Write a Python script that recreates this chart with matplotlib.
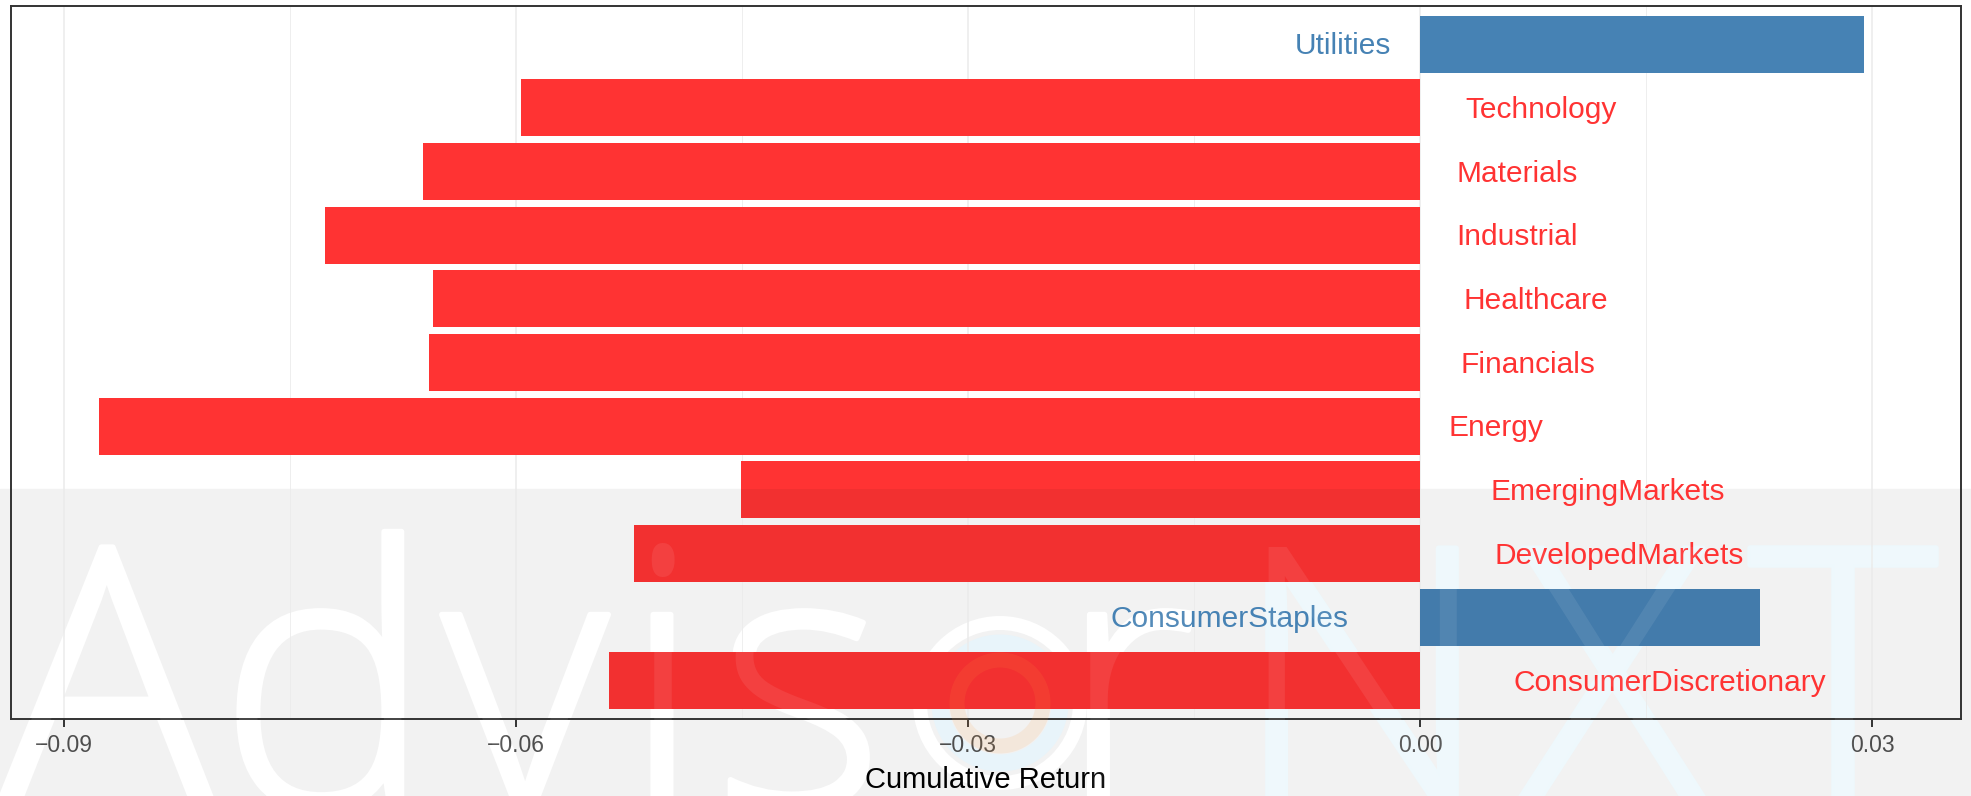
import matplotlib
matplotlib.use('Agg')
import matplotlib.pyplot as plt
import matplotlib.transforms as mtransforms
import matplotlib.patheffects as pe
from matplotlib import font_manager as fm
from matplotlib.patches import Rectangle, Circle
import numpy as np

# dados (de baixo para cima)
sectors = ['ConsumerDiscretionary', 'ConsumerStaples', 'DevelopedMarkets',
           'EmergingMarkets', 'Energy', 'Financials', 'Healthcare',
           'Industrial', 'Materials', 'Technology', 'Utilities']
returns = [-0.0538, 0.0226, -0.0522, -0.0451, -0.0877, -0.0658, -0.0655,
           -0.0727, -0.0662, -0.0597, 0.0295]
tick_values = [-0.09, -0.06, -0.03, 0.00, 0.03]
tick_labels = ['\u22120.09', '\u22120.06', '\u22120.03', '0.00', '0.03']
minor_values = [-0.075, -0.045, -0.015, 0.015]

RED, BLUE = '#FF3333', '#4682B4'
RED_D, BLUE_D = '#F23030', '#437BAB'

plt.rcParams['font.family'] = ['Liberation Sans', 'DejaVu Sans']

fig = plt.figure(figsize=(19.71, 7.96), dpi=100)
fig.patch.set_facecolor('white')
ax = fig.add_axes([0.00558, 0.0967, 0.98935, 0.8958])
ax.set_facecolor('none')

pos = np.arange(1, len(sectors) + 1)
colors = [RED if v < 0 else BLUE for v in returns]
dark = [RED_D if v < 0 else BLUE_D for v in returns]

ax.barh(pos, returns, height=0.9, color=colors, zorder=2)

# faixa cinza da marca d'agua (escurece as barras)
band_h = (796 - 489) / 796
band = Rectangle((0, 0), 1, band_h, transform=fig.transFigure,
                 color='#F2F2F2', zorder=-3)
fig.add_artist(band)
clip_rect = Rectangle((0, 0), 1, band_h, transform=fig.transFigure)
bars_d = ax.barh(pos, returns, height=0.9, color=dark, zorder=2.1)
for p in bars_d:
    p.set_clip_path(clip_rect)

# rotulos
texts = []
for y, name, v, c in zip(pos, sectors, returns, colors):
    ha = 'left' if v < 0 else 'right'
    t = ax.text(0, y - 0.035, name, ha=ha, va='center', color=c,
                fontsize=21.5, zorder=4)
    texts.append(t)

ax.set_xlim(-0.09352, 0.03591)
ax.set_ylim(0.4, 11.6)
ax.set_yticks([])
ax.set_xticks(tick_values)
ax.set_xticklabels(tick_labels)
ax.set_xticks(minor_values, minor=True)
ax.tick_params(axis='x', which='major', length=5.5, width=1.4, color='#333333',
               labelsize=16.5, labelcolor='#4D4D4D', pad=5)
ax.tick_params(axis='x', which='minor', length=0)
ax.set_axisbelow(True)
ax.grid(which='major', axis='x', color='#EBEBEB', lw=1.1)
ax.grid(which='minor', axis='x', color='#EBEBEB', lw=0.6)
for s in ax.spines.values():
    s.set_color('#333333')
    s.set_linewidth(1.4)
ax.set_xlabel('Cumulative Return', fontsize=21, color='black', labelpad=6.5)


# fonte leve para a marca d'agua
def pick_light():
    names = {'light': 300, 'thin': 100, 'extra-light': 200, 'ultralight': 200,
             'normal': 400, 'regular': 400}
    for name in ['Open Sans', 'Noto Sans', 'Lato', 'Roboto', 'Inter']:
        for f in fm.fontManager.ttflist:
            if f.name != name or f.style != 'normal':
                continue
            if str(f.stretch) not in ('normal', '500'):
                continue
            if 'ondensed' in f.fname or 'arrow' in f.fname:
                continue
            try:
                w = int(f.weight)
            except (TypeError, ValueError):
                w = names.get(str(f.weight).lower(), 400)
            if w == 300:
                return f.fname
    return None


fpath = pick_light()
if fpath:
    wm_font = fm.FontProperties(fname=fpath, size=261)
else:
    wm_font = fm.FontProperties(family='Liberation Sans', size=250)

letters = ['A', 'd', 'v', 'i', 's', 'r', 'N', 'X', 'T']
letter_x = [106, 326, 525, 662, 800, 1128, 1362, 1612, 1843]
letter_col = ['white'] * 6 + ['#EEF8FC'] * 3
base_y = (796 - 807) / 796
for ch, x, c in zip(letters, letter_x, letter_col):
    fig.text(x / 1971, base_y, ch, fontproperties=wm_font, color=c,
             ha='center', va='baseline', zorder=-2,
             path_effects=[pe.Stroke(linewidth=4, foreground=c), pe.Normal()])
    fig.text(x / 1971, base_y, ch, fontproperties=wm_font, color='white',
             alpha=0.08, ha='center', va='baseline', zorder=5)

# logo no lugar do "o"
logo_c = (10.0, 0.93)
fig.add_artist(Circle(logo_c, 0.80, fill=False, ec='white', lw=0.14 * 72,
                      transform=fig.dpi_scale_trans, zorder=-2))
fig.add_artist(Circle(logo_c, 0.60, fill=False, ec='#E8F4FA', lw=0.17 * 72,
                      transform=fig.dpi_scale_trans, zorder=-2))
fig.add_artist(Circle(logo_c, 0.43, fill=False, ec='#FF9A3C', lw=0.15 * 72,
                      alpha=0.12, transform=fig.dpi_scale_trans, zorder=5))

# deslocamento tipo hjust = -0.3 / 1.3
fig.canvas.draw()
r = fig.canvas.get_renderer()
for t, v in zip(texts, returns):
    w = t.get_window_extent(renderer=r).width
    dx = 0.3 * w if v < 0 else -0.3 * w
    t.set_transform(ax.transData + mtransforms.Affine2D().translate(dx, 0))

fig.savefig('out.png', dpi=100)
